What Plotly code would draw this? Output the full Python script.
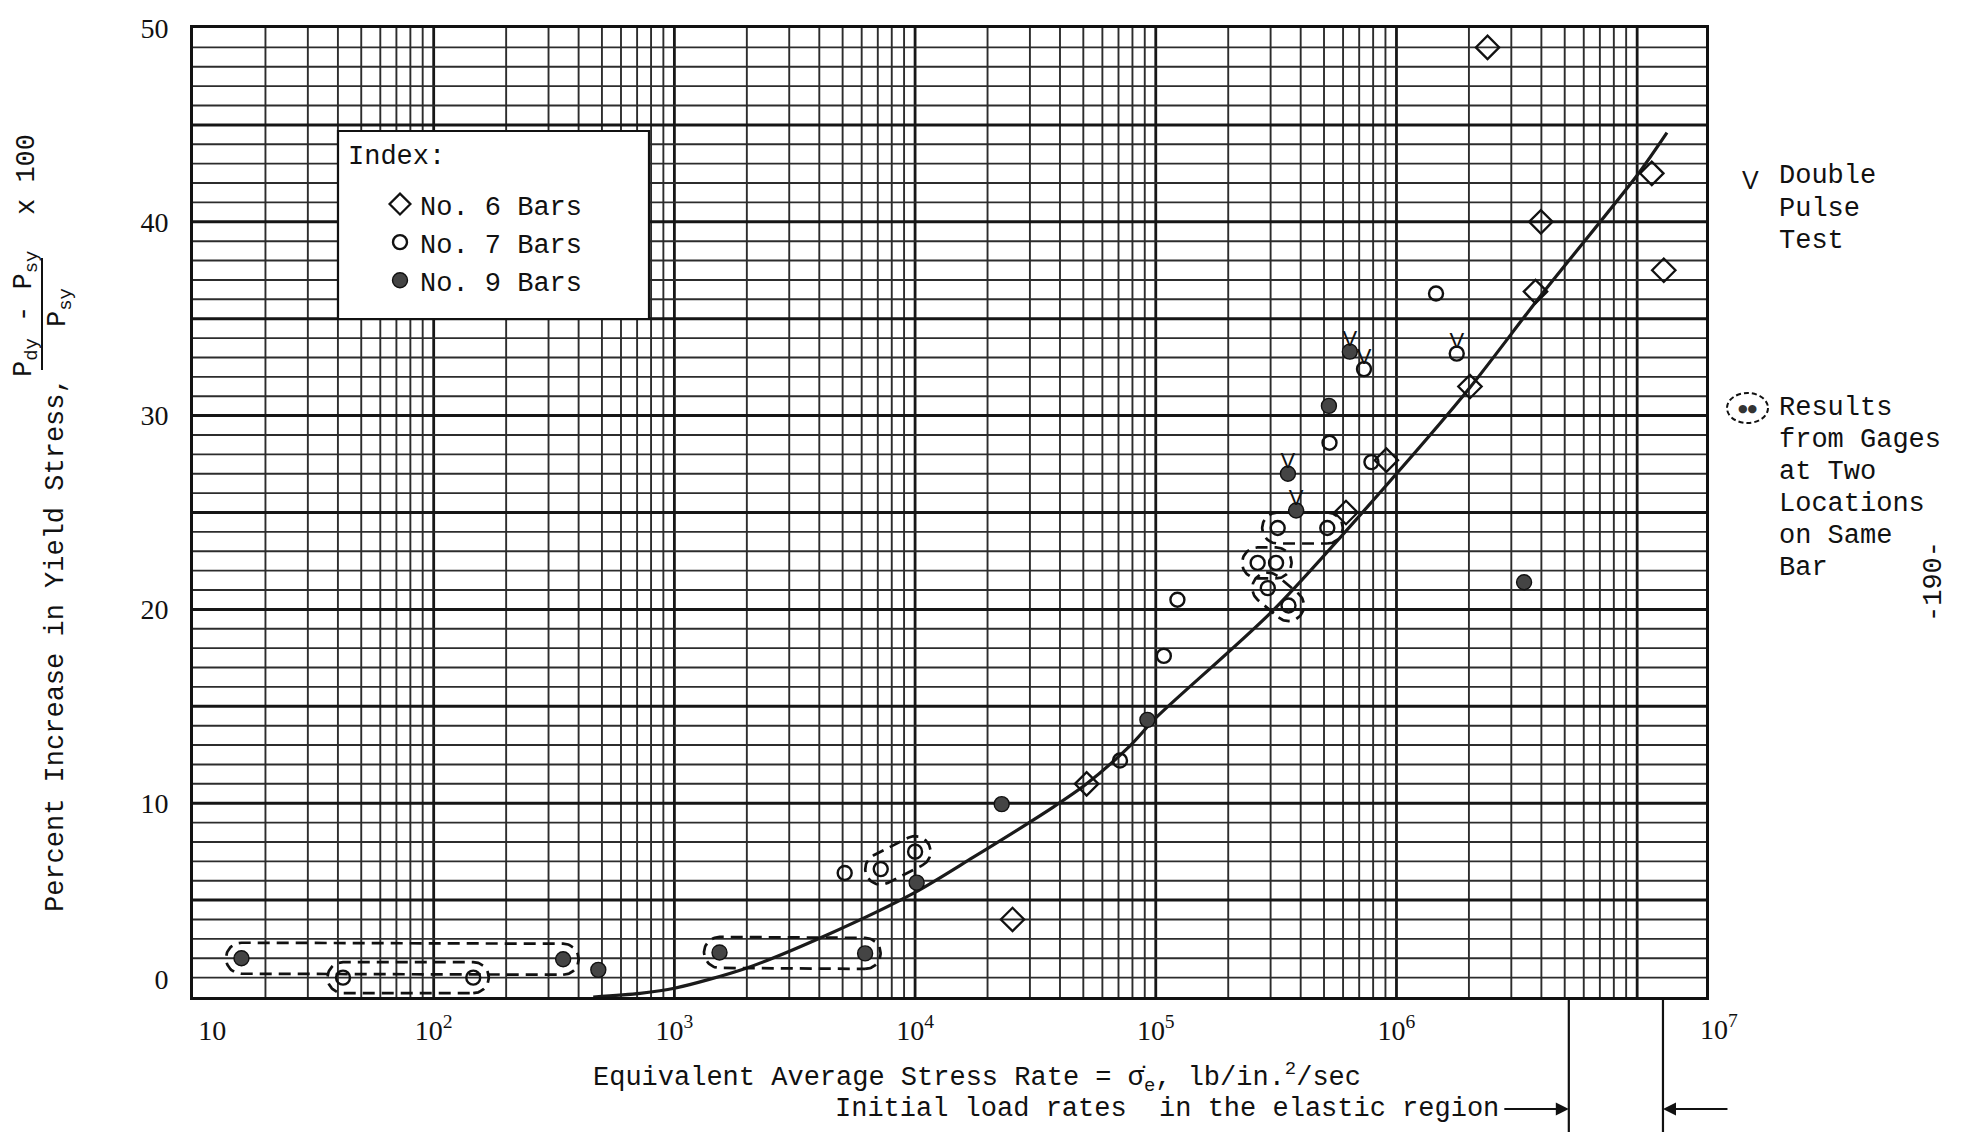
import numpy as np
import plotly.graph_objects as go

# ---------------- data ----------------
no6_x = [25400, 51600, 617000, 908000, 2.02e6, 2.39e6, 3.78e6, 3.98e6, 1.15e7, 1.29e7]
no6_y = [4.0, 11.0, 25.0, 27.7, 31.5, 49.0, 36.4, 40.0, 42.5, 37.5]

no7_x = [42, 146, 5100, 7200, 10000, 71000, 108000, 123000, 265000, 316000,
         292000, 356000, 321000, 516000, 527000, 733000, 787000, 1.46e6, 1.78e6]
no7_y = [1.0, 1.0, 6.4, 6.6, 7.5, 12.2, 17.6, 20.5, 22.4, 22.4,
         21.1, 20.2, 24.2, 24.2, 28.6, 32.4, 27.6, 36.3, 33.2]
no7_double_pulse = [15, 18]

no9_x = [15.9, 345, 483, 1540, 6200, 10150, 22900, 92300, 354000, 383000, 524000, 640000, 3.39e6]
no9_y = [2.0, 1.95, 1.4, 2.3, 2.25, 5.9, 9.95, 14.3, 27.0, 25.1, 30.5, 33.3, 21.4]
no9_double_pulse = [8, 9, 11]

# pairs of results from gages at two locations on the same bar
gage_pairs = [("no9", 0, 1), ("no7", 0, 1), ("no9", 3, 4), ("no7", 3, 4),
              ("no7", 8, 9), ("no7", 10, 11), ("no7", 12, 13)]

curve_x = [460, 720, 1000, 2000, 4300, 10000, 17400, 37500, 51600, 78700, 1e5,
           3.1e5, 1e6, 2.02e6, 3.98e6, 1e7, 1.33e7]
curve_y = [0.0, 0.19, 0.45, 1.5, 3.2, 5.4, 7.2, 9.8, 11.0, 13.0, 14.4,
           20.0, 27.0, 31.45, 36.2, 42.4, 44.6]

elastic_rate_bounds = [5.2e6, 1.28e7]

y_tick_vals = [0, 10, 20, 30, 40, 50]
x_tick_decades = [1, 2, 3, 4, 5, 6, 7]

# ---------------- layout geometry ----------------
W, H = 1963, 1132
PL, PR, PT, PB = 193, 1706, 28, 997
XMIN_LOG, XMAX_LOG = 1.0, 7.286
YMIN, YMAX = 0, 50


def px(x):
    return (x - PL) / (PR - PL)


def py(y):
    return (PB - y) / (PB - PT)


PX_PER_DEC = (PR - PL) / (XMAX_LOG - XMIN_LOG)
PX_PER_Y = (PB - PT) / (YMAX - YMIN)

FONT = "Liberation Mono"
TICKFONT = "Liberation Serif"

fig = go.Figure()

# ---------------- graph-paper grid ----------------
def vlines(xs):
    X, Y = [], []
    for x in xs:
        X += [x, x, None]
        Y += [YMIN, YMAX, None]
    return X, Y


def hlines(ys):
    X, Y = [], []
    for y in ys:
        X += [10 ** XMIN_LOG, 10 ** XMAX_LOG, None]
        Y += [y, y, None]
    return X, Y


minor_v = [k * 10 ** d for d in range(1, 7) for k in range(2, 10)]
major_v = [10 ** d for d in range(2, 8)]
minor_h = [y for y in range(1, 50) if y % 5]
major_h = [y for y in range(5, 50, 5)]

for xs, ys, w, c in [(minor_v, None, 1.9, "#2c2c2c"), (major_v, None, 2.8, "#161616"),
                     (None, minor_h, 1.9, "#2c2c2c"), (None, major_h, 3.0, "#161616")]:
    X, Y = vlines(xs) if xs is not None else hlines(ys)
    fig.add_trace(go.Scatter(x=X, y=Y, mode="lines", line=dict(color=c, width=w),
                             hoverinfo="skip", showlegend=False))

# ---------------- fitted curve ----------------
fig.add_trace(go.Scatter(x=curve_x, y=curve_y, mode="lines",
                         line=dict(color="#1a1a1a", width=3.2, shape="spline", smoothing=0.8),
                         hoverinfo="skip", showlegend=False))

# ---------------- dashed loops around gage pairs ----------------
series = {"no6": (no6_x, no6_y), "no7": (no7_x, no7_y), "no9": (no9_x, no9_y)}
R = 15.5  # loop radius in pixels


def stadium(p1, p2, r):
    u1, v1 = np.log10(p1[0]) * PX_PER_DEC, p1[1] * PX_PER_Y
    u2, v2 = np.log10(p2[0]) * PX_PER_DEC, p2[1] * PX_PER_Y
    ang = np.arctan2(v2 - v1, u2 - u1)
    a2 = np.linspace(ang - np.pi / 2, ang + np.pi / 2, 40)
    a1 = np.linspace(ang + np.pi / 2, ang + 3 * np.pi / 2, 40)
    us = np.concatenate([u2 + r * np.cos(a2), u1 + r * np.cos(a1), [u2 + r * np.cos(a2[0])]])
    vs = np.concatenate([v2 + r * np.sin(a2), v1 + r * np.sin(a1), [v2 + r * np.sin(a2[0])]])
    return 10 ** (us / PX_PER_DEC), vs / PX_PER_Y


for name, i, j in gage_pairs:
    sx, sy = series[name]
    lx, ly = stadium((sx[i], sy[i]), (sx[j], sy[j]), R)
    fig.add_trace(go.Scatter(x=lx, y=ly, mode="lines",
                             line=dict(color="#111", width=2.7, dash="12px,7px"),
                             hoverinfo="skip", showlegend=False))

# ---------------- data points ----------------
fig.add_trace(go.Scatter(x=no6_x, y=no6_y, mode="markers", name="No. 6 Bars",
                         marker=dict(symbol="diamond-open", size=18, color="#111",
                                     line=dict(width=2.3, color="#111"))))
fig.add_trace(go.Scatter(x=no7_x, y=no7_y, mode="markers", name="No. 7 Bars",
                         marker=dict(symbol="circle-open", size=14, color="#111",
                                     line=dict(width=2.4, color="#111"))))
fig.add_trace(go.Scatter(x=no9_x, y=no9_y, mode="markers", name="No. 9 Bars",
                         marker=dict(symbol="circle", size=15, color="#444",
                                     line=dict(width=1.4, color="#111"))))

# double pulse test marks
dpx = [no7_x[i] for i in no7_double_pulse] + [no9_x[i] for i in no9_double_pulse]
dpy = [no7_y[i] for i in no7_double_pulse] + [no9_y[i] for i in no9_double_pulse]
fig.add_trace(go.Scatter(x=dpx, y=dpy, mode="text", text=["V"] * len(dpx),
                         textposition="top center", cliponaxis=False,
                         textfont=dict(family="Liberation Sans", size=22, color="#111"),
                         hoverinfo="skip", showlegend=False))

# ---------------- annotations ----------------
ann = []
txt = dict(family=FONT, size=27, color="#111")

# x tick label 10^7 (placed at the right edge as in the original)
ann.append(dict(x=px(1719), y=py(1027), xref="paper", yref="paper", showarrow=False,
                text="10<sup>7</sup>", font=dict(family=TICKFONT, size=28, color="#111"),
                xanchor="center", yanchor="middle"))

# x axis title (two lines)
ann.append(dict(x=px(591), y=py(1077), xref="paper", yref="paper", showarrow=False,
                text="Equivalent Average Stress Rate = \u03c3\u0307<sub>e</sub>, lb/in.<sup>2</sup>/sec",
                font=txt, xanchor="left", yanchor="middle"))
ann.append(dict(x=px(833), y=py(1109), xref="paper", yref="paper", showarrow=False,
                text="Initial load rates  in the elastic region",
                font=txt, xanchor="left", yanchor="middle"))

# arrows to the elastic-region bounds
ann.append(dict(x=np.log10(elastic_rate_bounds[0]), y=py(1109), xref="x", yref="paper",
                text="", showarrow=True, arrowhead=2, arrowsize=1.3, arrowwidth=2,
                arrowcolor="#111", ax=-66, ay=0))
ann.append(dict(x=np.log10(elastic_rate_bounds[1]), y=py(1109), xref="x", yref="paper",
                text="", showarrow=True, arrowhead=2, arrowsize=1.3, arrowwidth=2,
                arrowcolor="#111", ax=66, ay=0))

# y axis title
ann.append(dict(x=px(56), y=py(645), xref="paper", yref="paper", showarrow=False,
                text="Percent Increase in Yield Stress,", textangle=-90, font=txt,
                xanchor="center", yanchor="middle"))
ann.append(dict(x=px(26), y=py(314), xref="paper", yref="paper", showarrow=False,
                text="P<sub>dy</sub> - P<sub>sy</sub>", textangle=-90, font=txt,
                xanchor="center", yanchor="middle"))
ann.append(dict(x=px(60), y=py(308), xref="paper", yref="paper", showarrow=False,
                text="P<sub>sy</sub>", textangle=-90, font=txt,
                xanchor="center", yanchor="middle"))
ann.append(dict(x=px(27), y=py(175), xref="paper", yref="paper", showarrow=False,
                text="x 100", textangle=-90, font=txt,
                xanchor="center", yanchor="middle"))

# legend title
ann.append(dict(x=px(346), y=py(157), xref="paper", yref="paper", showarrow=False,
                text="Index:", font=txt, xanchor="left", yanchor="middle"))

# right-hand notes
ann.append(dict(x=px(1750), y=py(180), xref="paper", yref="paper", showarrow=False,
                text="V", font=dict(family="Liberation Sans", size=25, color="#111"),
                xanchor="center", yanchor="middle"))
for k, line in enumerate(["Double", "Pulse", "Test"]):
    ann.append(dict(x=px(1777), y=py(176 + 32.5 * k), xref="paper", yref="paper",
                    showarrow=False, text=line, font=txt, xanchor="left", yanchor="middle"))
for k, line in enumerate(["Results", "from Gages", "at Two", "Locations", "on Same", "Bar"]):
    ann.append(dict(x=px(1777), y=py(408 + 32 * k), xref="paper", yref="paper",
                    showarrow=False, text=line, font=txt, xanchor="left", yanchor="middle"))
ann.append(dict(x=px(1747), y=py(408), xref="paper", yref="paper", showarrow=False,
                text="\u25cf\u25cf", font=dict(family="DejaVu Sans", size=11, color="#333"),
                xanchor="center", yanchor="middle"))

# page number
ann.append(dict(x=px(1934), y=py(582), xref="paper", yref="paper", showarrow=False,
                text="-190-", textangle=-90, font=txt, xanchor="center", yanchor="middle"))

shapes = []
# legend box
shapes.append(dict(type="rect", xref="paper", yref="paper", x0=px(338), x1=px(649),
                   y0=py(319), y1=py(131), fillcolor="white",
                   line=dict(color="#111", width=2.2), layer="above"))
# fraction bar of the y title
shapes.append(dict(type="line", xref="paper", yref="paper", x0=px(42), x1=px(42),
                   y0=py(258), y1=py(370), line=dict(color="#111", width=2)))
# dashed ring of the "results from gages" key
shapes.append(dict(type="circle", xref="paper", yref="paper", x0=px(1727), x1=px(1768),
                   y0=py(423), y1=py(393), line=dict(color="#111", width=2, dash="5px,3px")))
# elastic-region bound lines below the axis
for b in elastic_rate_bounds:
    shapes.append(dict(type="line", xref="x", yref="paper", x0=b, x1=b,
                       y0=py(998), y1=py(1132), line=dict(color="#111", width=2.2)))

fig.update_layout(
    width=W, height=H,
    margin=dict(l=PL, r=W - PR, t=PT, b=H - PB, pad=0),
    paper_bgcolor="white", plot_bgcolor="white",
    showlegend=True,
    legend=dict(x=px(380), y=py(180), xanchor="left", yanchor="top",
                bgcolor="rgba(0,0,0,0)", borderwidth=0, itemwidth=30,
                font=dict(family=FONT, size=27, color="#111"), tracegroupgap=0),
    annotations=ann, shapes=shapes,
    xaxis=dict(type="log", range=[XMIN_LOG, XMAX_LOG], showgrid=False, zeroline=False,
               showline=True, mirror=True, linewidth=3, linecolor="#111", ticks="",
               tickvals=[10 ** 1.08] + [10 ** d for d in x_tick_decades[1:6]],
               ticktext=["10"] + ["10<sup>%d</sup>" % d for d in x_tick_decades[1:6]],
               tickfont=dict(family=TICKFONT, size=28, color="#111"),
               ticklabelstandoff=6),
    yaxis=dict(range=[YMIN, YMAX], showgrid=False, zeroline=False,
               showline=True, mirror=True, linewidth=3, linecolor="#111", ticks="",
               tickvals=[0.9] + y_tick_vals[1:],
               ticktext=[str(v) for v in y_tick_vals],
               tickfont=dict(family=TICKFONT, size=28, color="#111"),
               ticklabelstandoff=16),
)

fig.write_html("out.html")
